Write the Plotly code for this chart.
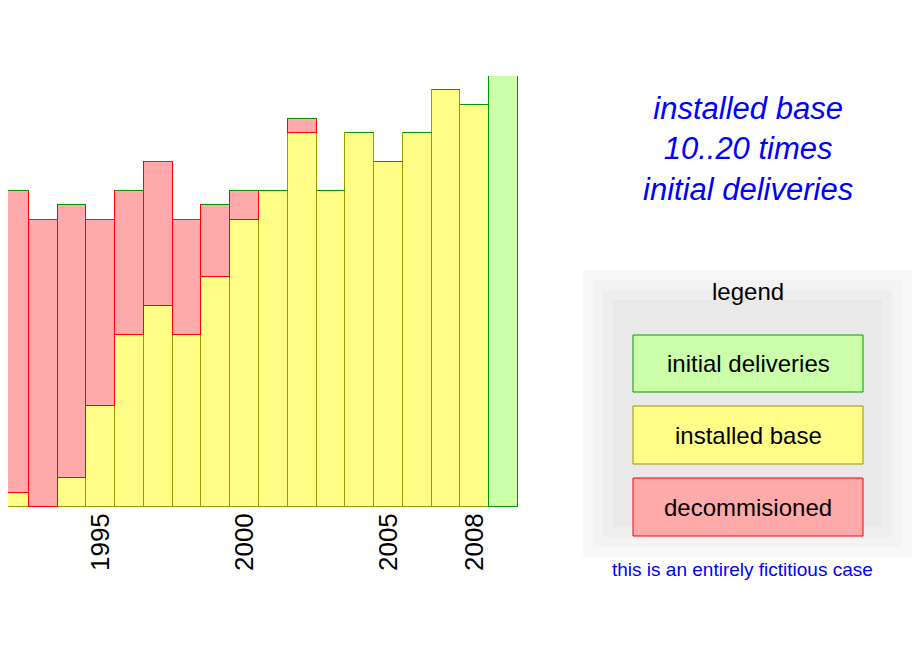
import plotly.graph_objects as go

years = list(range(1992, 2010))
installed = [1, 0, 2, 7, 12, 14, 12, 16, 20, 22, 26, 22, 26, 24, 26, 29, 28, 0]
decom = [21, 20, 19, 13, 10, 10, 8, 5, 2, 0, 1, 0, 0, 0, 0, 0, 0, 0]
initial = [0]*17 + [30]
tick_years = [1995, 2000, 2005, 2008]

fig = go.Figure()
fig.add_bar(x=years, y=installed, marker=dict(color="#ffff88", line=dict(color="#999900", width=1)))
fig.add_bar(x=years, y=decom, marker=dict(color="#ffaaaa", line=dict(color="#ff0000", width=1)))
fig.add_bar(x=years, y=initial, marker=dict(color="#ccffaa", line=dict(color="#009900", width=1)))

W, H0, PH = 510.0, 507.0, 431.0
def px(x): return (x - 8) / W
def py(y): return (H0 - y) / PH

shapes = []
for i, c in enumerate(["#f8f8f8", "#f3f3f3", "#eeeeee", "#e9e9e9"]):
    d = i * 10
    shapes.append(dict(type="rect", xref="paper", yref="paper", x0=px(583 + d), x1=px(912 - d),
                       y0=py(270 + d), y1=py(557 - d), fillcolor=c, line=dict(width=0), layer="below"))
boxes = [("initial deliveries", 335, 392, "#ccffaa", "#009900"),
         ("installed base", 406, 464, "#ffff88", "#999900"),
         ("decommisioned", 478, 536, "#ffaaaa", "#ff0000")]
ann = []
def A(text, x, y, size, color, **kw):
    ann.append(dict(text=text, xref="paper", yref="paper", x=px(x), y=py(y), showarrow=False,
                    xanchor="center", yanchor="middle", font=dict(size=size, color=color), **kw))
for t, y0, y1, fc, lc in boxes:
    shapes.append(dict(type="rect", xref="paper", yref="paper", x0=px(633), x1=px(863),
                       y0=py(y1), y1=py(y0), fillcolor=fc, line=dict(color=lc, width=1)))
    A(t, 748, (y0 + y1) / 2, 24, "black")
A("legend", 748, 291, 24, "black")
A("this is an entirely fictitious case", 742, 569, 19, "#0000ff")
A("<i>installed base<br>10..20 times<br>initial deliveries</i>", 748, 149, 31, "#0000ff")

fig.update_layout(
    width=912, height=652, barmode="stack", bargap=0, showlegend=False,
    margin=dict(l=0, r=402, t=68, b=153, autoexpand=False),
    paper_bgcolor="white", plot_bgcolor="white",
    font=dict(family="Liberation Sans, Arial, sans-serif"),
    xaxis=dict(range=[1991.5 + 8 / 28.78, 2009.5], tickvals=tick_years, ticktext=[str(y) for y in tick_years],
               tickangle=-90, tickfont=dict(size=26, color="black"), showgrid=False, zeroline=False,
               showline=False, ticks="", automargin=False),
    yaxis=dict(range=[0, 30], visible=False),
    shapes=shapes, annotations=ann,
)
fig.write_html("out.html")
